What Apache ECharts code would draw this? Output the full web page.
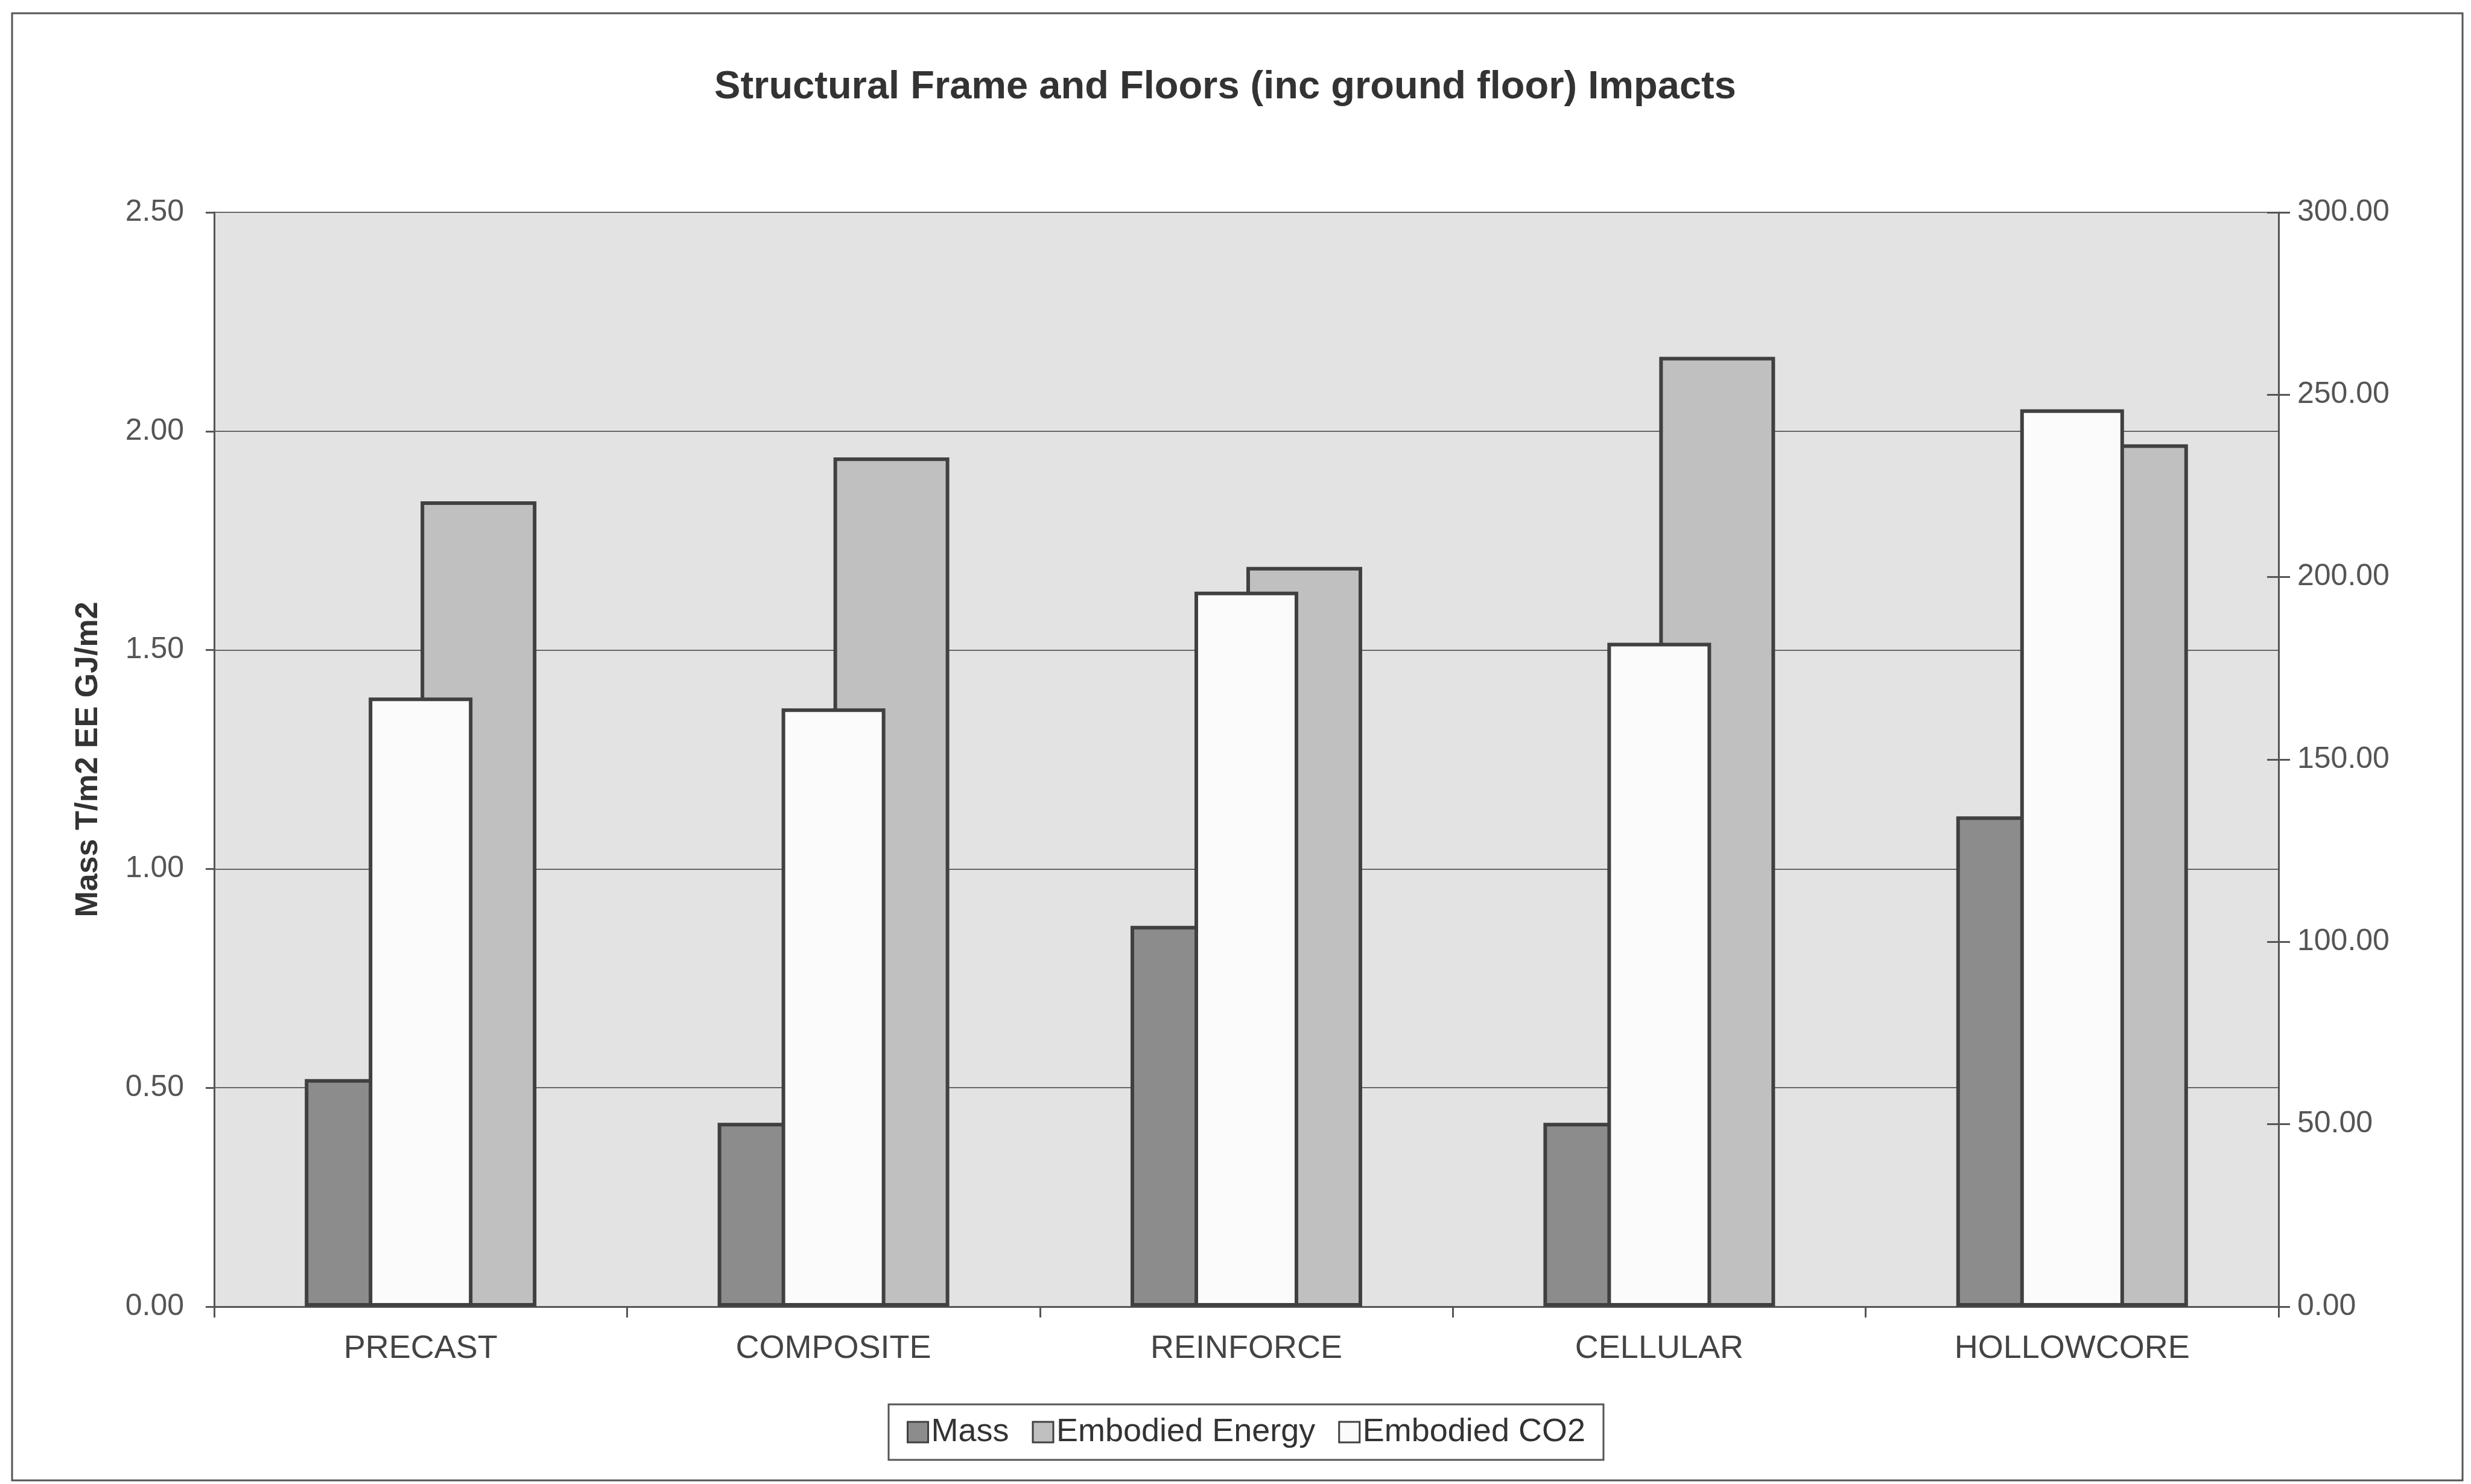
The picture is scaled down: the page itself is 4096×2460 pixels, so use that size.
<!DOCTYPE html>
<html>
<head>
<meta charset="utf-8">
<title>Structural Frame and Floors (inc ground floor) Impacts</title>
<script src="https://cdn.jsdelivr.net/npm/echarts@6/dist/echarts.min.js"></script>
<style>
  html, body { margin: 0; padding: 0; background: #ffffff; }
  #chart { width: 4096px; height: 2460px; }
</style>
</head>
<body>
<div id="chart"></div>
<script>
// Floor / frame systems compared
const categories = ['PRECAST', 'COMPOSITE', 'REINFORCE', 'CELLULAR', 'HOLLOWCORE'];

// Primary axis: mass (T/m2) and embodied energy (GJ/m2)
const massValues = [0.52, 0.42, 0.87, 0.42, 1.12];
const energyValues = [1.84, 1.94, 1.69, 2.17, 1.97];

// Secondary axis: embodied CO2
const co2Values = [167, 164, 196, 182, 246];

const seriesNames = ['Mass', 'Embodied Energy', 'Embodied CO2'];
const leftAxisName = 'Mass T/m2 EE GJ/m2';
const chartTitle = 'Structural Frame and Floors (inc ground floor) Impacts';

const FONT = 'Liberation Sans, Arial, Helvetica, sans-serif';
const AXIS_COLOR = '#555555';
const BAR_BORDER = '#404040';

const chart = echarts.init(document.getElementById('chart'));

const fmt2 = v => Number(v).toFixed(2);

chart.setOption({
  animation: false,
  backgroundColor: '#ffffff',
  textStyle: { fontFamily: FONT },
  title: {
    text: chartTitle,
    left: 2026,
    textAlign: 'center',
    top: 108,
    textStyle: { fontFamily: FONT, fontSize: 65, fontWeight: 'bold', color: '#333333' }
  },
  graphic: [{
    type: 'rect',
    shape: { x: 20, y: 22, width: 4062, height: 2432 },
    style: { fill: 'none', stroke: '#555555', lineWidth: 3 },
    silent: true,
    z: -1
  }],
  legend: {
    data: seriesNames,
    left: 1473,
    top: 2328,
    orient: 'horizontal',
    icon: 'rect',
    itemWidth: 34,
    itemHeight: 34,
    itemGap: 38,
    padding: [16, 30],
    backgroundColor: '#ffffff',
    borderColor: '#555555',
    borderWidth: 3,
    itemStyle: { borderColor: BAR_BORDER, borderWidth: 3 },
    textStyle: { fontFamily: FONT, fontSize: 54, color: '#333333', padding: [0, 0, 0, 0], lineHeight: 60 }
  },
  grid: {
    left: 355,
    right: 319,
    top: 352,
    bottom: 294,
    show: true,
    backgroundColor: '#e3e3e3',
    borderWidth: 0
  },
  xAxis: [
    {
      type: 'category',
      data: categories,
      position: 'bottom',
      axisLine: { show: true, lineStyle: { color: AXIS_COLOR, width: 3 } },
      axisTick: { show: true, inside: false, length: 18, alignWithLabel: false, lineStyle: { color: AXIS_COLOR, width: 3 } },
      axisLabel: { fontFamily: FONT, fontSize: 54, color: '#444444', margin: 43 },
      splitLine: { show: false }
    },
    {
      type: 'category',
      data: categories,
      position: 'bottom',
      show: false
    }
  ],
  yAxis: [
    {
      type: 'value',
      position: 'left',
      min: 0,
      max: 2.5,
      interval: 0.5,
      name: leftAxisName,
      nameLocation: 'middle',
      nameGap: 182,
      nameTextStyle: { fontFamily: FONT, fontSize: 52, fontWeight: 'bold', color: '#333333' },
      axisLine: { show: true, lineStyle: { color: AXIS_COLOR, width: 3 } },
      axisTick: { show: true, inside: false, length: 14, lineStyle: { color: AXIS_COLOR, width: 3 } },
      axisLabel: { fontFamily: FONT, fontSize: 50, color: '#555555', margin: 50, formatter: fmt2 },
      splitLine: { show: true, lineStyle: { color: '#666666', width: 2 } }
    },
    {
      type: 'value',
      position: 'right',
      min: 0,
      max: 300,
      interval: 50,
      axisLine: { show: true, lineStyle: { color: AXIS_COLOR, width: 3 } },
      axisTick: { show: true, inside: false, length: 19, lineStyle: { color: AXIS_COLOR, width: 3 } },
      axisLabel: { fontFamily: FONT, fontSize: 50, color: '#555555', margin: 31, formatter: fmt2 },
      splitLine: { show: false }
    },
    {
      // inner half of the crossing ticks on the CO2 axis
      type: 'value',
      position: 'right',
      min: 0,
      max: 300,
      interval: 50,
      axisLine: { show: false },
      axisTick: { show: true, inside: true, length: 19, lineStyle: { color: AXIS_COLOR, width: 3 } },
      axisLabel: { show: false },
      splitLine: { show: false }
    }
  ],
  series: [
    {
      name: seriesNames[0],
      type: 'bar',
      xAxisIndex: 0,
      yAxisIndex: 0,
      data: massValues,
      barWidth: 192,
      barGap: '0%',
      itemStyle: { color: '#8c8c8c', borderColor: BAR_BORDER, borderWidth: 6 }
    },
    {
      name: seriesNames[1],
      type: 'bar',
      xAxisIndex: 0,
      yAxisIndex: 0,
      data: energyValues,
      barWidth: 192,
      barGap: '0%',
      itemStyle: { color: '#c0c0c0', borderColor: BAR_BORDER, borderWidth: 6 }
    },
    {
      name: seriesNames[2],
      type: 'bar',
      xAxisIndex: 1,
      yAxisIndex: 1,
      data: co2Values,
      barWidth: 172,
      itemStyle: { color: '#fbfbfb', borderColor: BAR_BORDER, borderWidth: 6 }
    }
  ]
});
</script>
</body>
</html>
